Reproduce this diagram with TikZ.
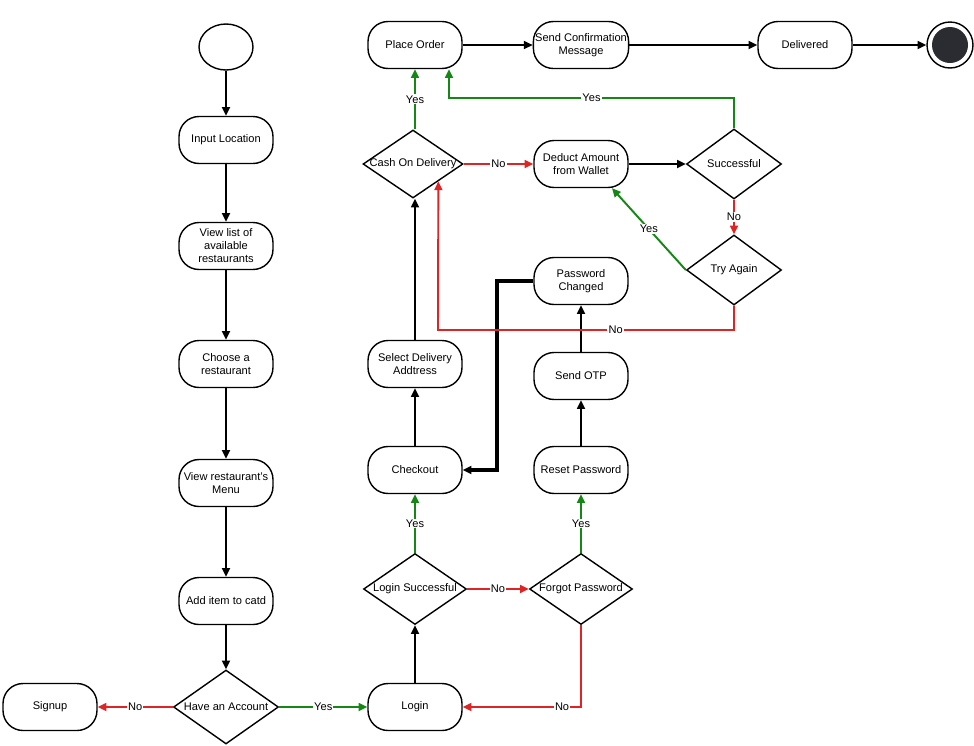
\documentclass[tikz,border=0pt]{standalone}
\usepackage{fontspec}
\setmainfont{Liberation Sans}
\usepackage{mathtools}
\usepackage{tikz}
\usetikzlibrary{arrows.meta,shapes.geometric,calc}
\usepackage{xcolor}
\definecolor{okgreen}{RGB}{20,135,20}
\definecolor{nored}{RGB}{222,36,36}
\definecolor{enddot}{RGB}{42,44,50}

\begin{document}
\begin{tikzpicture}[x=0.02cm,y=-0.02cm,
  font=\fontsize{6.3}{7.4}\selectfont,
  box/.style={draw,line width=0.8pt,rounded corners=0.4cm,minimum width=1.88cm,minimum height=0.94cm,align=center,inner sep=1pt},
  dec/.style={draw,diamond,line width=0.8pt,minimum width=2.06cm,minimum height=1.42cm,inner sep=0pt},
  flow/.style={line width=1.1pt,-{Triangle[length=5pt,width=4.5pt]}},
  yesflow/.style={flow,okgreen},
  noflow/.style={flow,nored},
  lbl/.style={fill=white,inner sep=0.6pt,text=black}]
\useasboundingbox (0,0) rectangle (974,745);

% left column
\node[ellipse,draw,line width=0.8pt,minimum width=1.08cm,minimum height=0.92cm] (init) at (226,47) {};
\node[box] (inloc) at (226,140) {Input Location};
\node[box] (vlist) at (226,246) {View list of\\available\\restaurants};
\node[box] (choose) at (226,364) {Choose a\\restaurant};
\node[box] (menu) at (226,483) {View restaurant's\\Menu};
\node[box] (additem) at (226,601) {Add item to catd};
\node[dec,minimum width=2.1cm,minimum height=1.48cm] (hasacc) at (226,707) {\clap{Have an Account}};
\node[box] (signup) at (50,707) {Signup};

% middle column
\node[box] (login) at (415,707) {Login};
\node[dec] (logok) at (415,589) {\clap{Login Successful}};
\node[box] (checkout) at (415,470) {Checkout};
\node[box] (seladdr) at (415,364) {Select Delivery\\Addtress};
\node[dec,minimum width=2cm,minimum height=1.36cm] (cod) at (413,164) {\clap{Cash On Delivery}};
\node[box] (place) at (415,45) {Place Order};

% right column
\node[dec] (forgot) at (581,589) {\clap{Forgot Password}};
\node[box] (reset) at (581,470) {Reset Password};
\node[box] (otp) at (581,376) {Send OTP};
\node[box] (pwchg) at (581,281) {Password\\Changed};
\node[box] (deduct) at (581,164) {Deduct Amount\\from Wallet};
\node[box] (confirm) at (581,45) {Send Confirmation\\Message};
\node[dec,minimum width=1.9cm,minimum height=1.4cm] (success) at (734,164) {\clap{Successful}};
\node[dec,minimum width=1.9cm,minimum height=1.4cm] (again) at (734,270) {\clap{Try Again}};
\node[box] (delivered) at (805,45) {Delivered};
\node[circle,draw,line width=0.8pt,minimum size=0.92cm] (fin) at (950,45) {};
\fill[enddot] (fin) circle (0.36cm);

\coordinate (pcbend) at (497,281);
\coordinate (yesbend) at (449,98);
\coordinate (nobend) at (438,330);

\draw[flow] (init) -- (inloc);
\draw[flow] (inloc) -- (vlist);
\draw[flow] (vlist) -- (choose);
\draw[flow] (choose) -- (menu);
\draw[flow] (menu) -- (additem);
\draw[flow] (additem) -- (hasacc);
\draw[noflow] (hasacc) -- node[lbl] {No} (signup);
\draw[yesflow] (hasacc) -- node[lbl] {Yes} (login);
\draw[flow] (login) -- (logok);
\draw[noflow] (logok) -- node[lbl] {No} (forgot);
\draw[yesflow] (logok) -- node[lbl] {Yes} (checkout);
\draw[yesflow] (forgot) -- node[lbl] {Yes} (reset);
\draw[noflow,line width=1.6pt] (forgot.south) |- node[lbl,pos=0.58] {No} (login.east);
\draw[flow] (reset) -- (otp);
\draw[flow] (otp) -- (pwchg);
\draw[flow,line width=1.8pt] (pwchg.west) -- (pcbend) |- (checkout.east);
\draw[flow] (checkout) -- (seladdr);
\draw[flow] (seladdr.north) -- (seladdr.north |- cod.south);
\draw[yesflow] (seladdr.north |- cod.north) -- node[lbl] {Yes} (place);
\draw[noflow] (cod) -- node[lbl] {No} (deduct);
\draw[flow] (deduct) -- (success);
\draw[noflow] (success) -- node[lbl] {No} (again);
\draw[yesflow] (again.west) -- node[lbl] {Yes} (deduct.-38);
\draw[yesflow] (success.north) |- node[lbl,pos=0.75] {Yes} (yesbend) -- (place.south -| yesbend);
\draw[noflow] (again.south) |- node[lbl,pos=0.7] {No} (nobend) -- (cod.south east);
\draw[flow] (place) -- (confirm);
\draw[flow] (confirm) -- (delivered);
\draw[flow] (delivered) -- (fin);

\end{tikzpicture}
\end{document}
